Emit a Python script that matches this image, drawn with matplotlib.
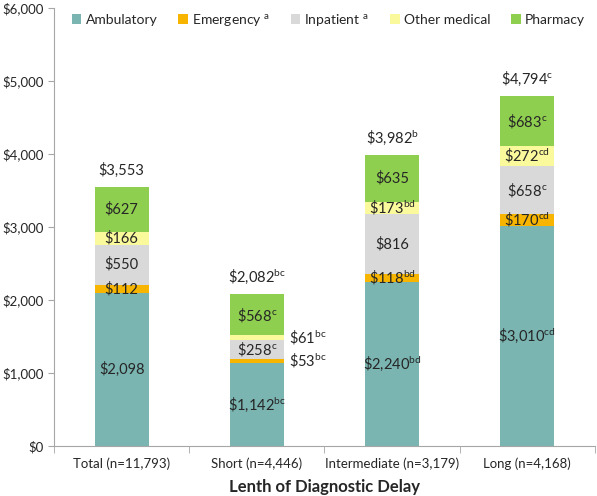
import matplotlib
matplotlib.use("Agg")
import matplotlib.pyplot as plt
from matplotlib.ticker import FixedLocator, FuncFormatter

plt.rcParams['font.family'] = ['Lato', 'DejaVu Sans']
plt.rcParams['mathtext.fontset'] = 'custom'
plt.rcParams['mathtext.rm'] = 'Lato'
plt.rcParams['mathtext.it'] = 'Lato:italic'
plt.rcParams['mathtext.bf'] = 'Lato:bold'

# Data
groups = ['Total (n=11,793)', 'Short (n=4,446)', 'Intermediate (n=3,179)', 'Long (n=4,168)']
ambulatory = [2098, 1142, 2240, 3010]
emergency = [112, 53, 118, 170]
inpatient = [550, 258, 816, 658]
other_medical = [166, 61, 173, 272]
pharmacy = [627, 568, 635, 683]
totals = [3553, 2082, 3982, 4794]

# superscripts for each value label
amb_sup = ['', 'bc', 'bd', 'cd']
em_sup = ['', 'bc', 'bd', 'cd']
inp_sup = ['', 'c', '', 'c']
oth_sup = ['', 'bc', 'bd', 'cd']
ph_sup = ['', 'c', '', 'c']
tot_sup = ['', 'bc', 'b', 'c']

series = [
    ('Ambulatory', ambulatory, amb_sup, '#7AB5B1'),
    ('Emergency $^{\\mathregular{a}}$', emergency, em_sup, '#F7B500'),
    ('Inpatient $^{\\mathregular{a}}$', inpatient, inp_sup, '#D9D9D9'),
    ('Other medical', other_medical, oth_sup, '#FAFA9C'),
    ('Pharmacy', pharmacy, ph_sup, '#8FCF4F'),
]

def money(v, sup=''):
    s = '\\$' + f'{v:,.0f}'
    if sup:
        s += '$^{\\mathregular{' + sup + '}}$'
    return s

txt_color = '#262626'

fig = plt.figure(figsize=(5.97, 4.96), dpi=100)
ax = fig.add_axes([0.0905, 0.1008, 0.9061, 0.8831])

x = list(range(len(groups)))
width = 0.4
bottoms = [0] * len(groups)
for name, vals, sups, color in series:
    ax.bar(x, vals, width, bottom=bottoms, color=color, label=name, linewidth=0)
    for i in x:
        yc = bottoms[i] + vals[i] / 2
        if vals[i] < 100:
            # small segments labelled outside on the right
            ax.text(i + width / 2 + 0.04, yc, money(vals[i], sups[i]),
                    ha='left', va='center', fontsize=10.5, color=txt_color)
        else:
            ax.text(i, yc, money(vals[i], sups[i]), ha='center', va='center',
                    fontsize=10.5, color=txt_color)
    bottoms = [b + v for b, v in zip(bottoms, vals)]

for i in x:
    ax.annotate(money(totals[i], tot_sup[i]), (i, bottoms[i]), xytext=(0, 6),
                textcoords='offset points', ha='center', va='bottom',
                fontsize=10.5, color=txt_color)

ax.set_xlim(-0.5, len(groups) - 0.5)
ax.set_ylim(0, 6000)
ax.set_yticks(range(0, 6001, 1000))
ax.yaxis.set_major_formatter(FuncFormatter(lambda v, p: '\\$' + f'{v:,.0f}'))
ax.set_xticks(x)
ax.set_xticklabels(groups)
ax.xaxis.set_minor_locator(FixedLocator([-0.5, 0.5, 1.5, 2.5, 3.5]))
ax.tick_params(axis='x', which='major', length=0, pad=8, labelsize=9.5, colors=txt_color)
ax.tick_params(axis='x', which='minor', length=5, color='#A6A6A6')
ax.tick_params(axis='y', length=4, color='#A6A6A6', labelsize=9.5, labelcolor=txt_color)

for s in ['top', 'right']:
    ax.spines[s].set_visible(False)
for s in ['left', 'bottom']:
    ax.spines[s].set_color('#A6A6A6')

ax.set_xlabel('Lenth of Diagnostic Delay', fontsize=12, fontweight='bold', color=txt_color, labelpad=7)

ax.legend(loc='upper center', bbox_to_anchor=(0.507, 1.02), ncol=5, frameon=False,
          fontsize=10, handlelength=0.7, handleheight=0.7, handletextpad=0.3,
          columnspacing=1.5, labelcolor=txt_color)

fig.savefig('out.png', dpi=100)
